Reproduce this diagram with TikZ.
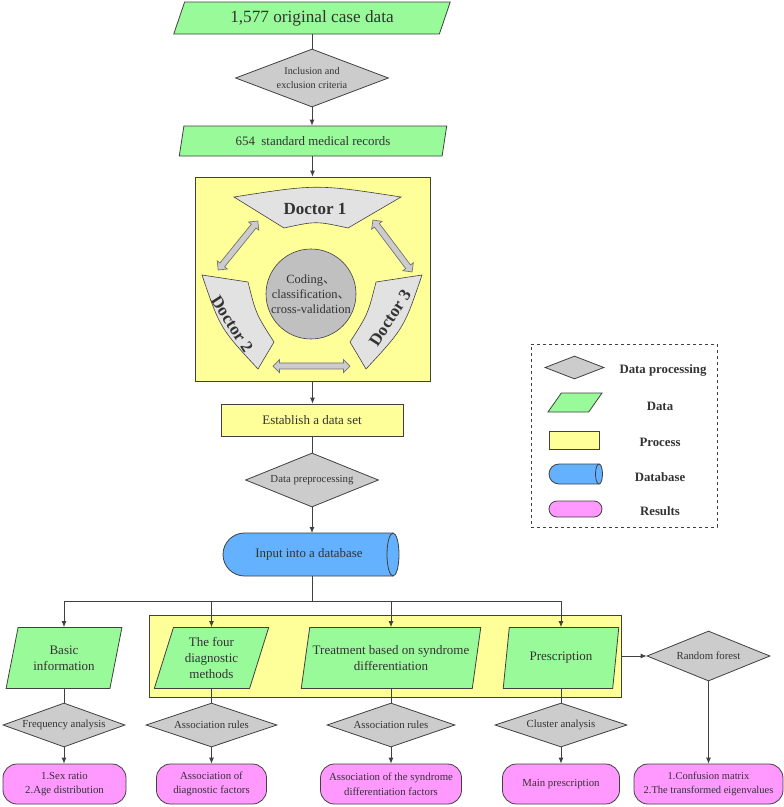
\documentclass[tikz,border=0pt]{standalone}
\usepackage{fontspec}
\setmainfont{Liberation Serif}
\newfontfamily\cjk{Noto Sans CJK SC}
\usepackage{tikz}
\usetikzlibrary{shapes.geometric, shapes.arrows, positioning, arrows.meta}

\definecolor{datagreen}{RGB}{153,250,153}
\definecolor{procyellow}{RGB}{255,255,153}
\definecolor{procgray}{RGB}{204,204,204}
\definecolor{dbblue}{RGB}{99,177,255}
\definecolor{respink}{RGB}{255,153,255}
\definecolor{docgray}{RGB}{226,226,226}
\definecolor{circgray}{RGB}{192,192,192}
\definecolor{linegray}{RGB}{64,64,64}
\definecolor{textgray}{RGB}{51,51,51}

\tikzset{
  line/.style={draw=linegray, line width=0.8pt},
  arr/.style={line, -{Latex[length=6pt,width=5pt]}},
  datanode/.style={trapezium, trapezium stretches=true, trapezium left angle=#1,
    trapezium right angle={180-#1}, draw=linegray, fill=datagreen, line width=0.8pt,
    inner sep=0pt, align=center, text=textgray},
  datanode/.default=72,
  procnode/.style={diamond, shape aspect=2.6, draw=linegray, fill=procgray,
    line width=0.8pt, inner sep=0pt, align=center, text=textgray},
  boxnode/.style={rectangle, draw=linegray, fill=procyellow, line width=0.8pt,
    inner sep=0pt, align=center, text=textgray},
  resnode/.style={rectangle, rounded corners=14pt, draw=linegray, fill=respink,
    line width=0.8pt, inner sep=0pt, align=center, text=textgray},
  docshape/.style={draw=linegray, fill=docgray, line width=0.6pt},
  docarrow/.style={double arrow, draw=gray!90!black, fill=procgray, line width=0.7pt,
    inner sep=2.7pt, double arrow head extend=3.5pt},
  legtxt/.style={text=textgray, font=\fontsize{12.8}{15}\selectfont\bfseries}
}

\begin{document}
\begin{tikzpicture}[x=1pt, y=-1pt]
\useasboundingbox (0,0) rectangle (784,807);

% Top column
\node[datanode=66, minimum width=277, minimum height=32, font=\fontsize{17.2}{20}\selectfont]
  (raw) at (312,18) {1,577 original case data};
\node[procnode, minimum width=153, minimum height=58, font=\fontsize{10.2}{14.5}\selectfont]
  (incl) at (312,78) {Inclusion and\\exclusion criteria};
\node[datanode=73, minimum width=268, minimum height=30, font=\fontsize{12.9}{15}\selectfont]
  (std) at (313,141) {654\ \ standard medical records};

% Doctors box
\node[boxnode, minimum width=235, minimum height=204] (docbox) at (312.5,279) {};
\draw[docshape] (234,197) .. controls (317,184) .. (401,197) -- (348,228)
  .. controls (316,221) .. (284,228) -- cycle;
\draw[docshape] (202,275) .. controls (220,328) .. (258,369) -- (274,342)
  .. controls (256,314) .. (248,282) -- cycle;
\draw[docshape] (422,275) .. controls (404,328) .. (366,369) -- (350,342)
  .. controls (368,314) .. (376,282) -- cycle;
\node[text=textgray, font=\fontsize{17}{19}\selectfont\bfseries] (doc1) at (315,209) {Doctor 1};
\node[text=textgray, font=\fontsize{17}{19}\selectfont\bfseries, rotate=-57] (doc2) at (232,324) {Doctor 2};
\node[text=textgray, font=\fontsize{17}{19}\selectfont\bfseries, rotate=57] (doc3) at (390,318) {Doctor 3};
\node[circle, draw=linegray, fill=circgray, line width=0.6pt, minimum size=90, inner sep=0pt,
  align=center, text=textgray, font=\fontsize{12.5}{15}\selectfont]
  (coding) at (311,294) {Coding{\cjk 、}\\classification{\cjk 、}\\cross-validation};
\node[docarrow, minimum height=63, rotate=51] (swap12) at (238,245.5) {};
\node[docarrow, minimum height=65, rotate=-53] (swap13) at (392.5,246) {};
\node[docarrow, minimum height=77] (swap23) at (311.5,366) {};

\node[boxnode, minimum width=182, minimum height=32, font=\fontsize{13}{15}\selectfont]
  (estab) at (312,420) {Establish a data set};
\node[procnode, minimum width=133, minimum height=54, font=\fontsize{10.8}{13}\selectfont]
  (prep) at (312,480) {Data preprocessing};

% Database
\draw[line, fill=dbblue] (393,533) [rounded corners=21.5pt] -- (223,533) -- (223,576)
  [sharp corners] -- (393,576) -- cycle;
\draw[line, fill=dbblue] (393,554.5) ellipse [x radius=6, y radius=21.5];
\node[text=textgray, minimum width=170, minimum height=43, inner sep=0pt,
  font=\fontsize{12.9}{15}\selectfont] (db) at (309,554.5) {Input into a database};

% Lower row
\node[boxnode, minimum width=472, minimum height=82] (lowbox) at (385,656) {};
\node[datanode, minimum width=116, minimum height=61, font=\fontsize{13}{16}\selectfont]
  (basic) at (64,658) {Basic\\information};
\node[datanode, minimum width=115, minimum height=61, font=\fontsize{13}{16}\selectfont]
  (four) at (211.5,658) {The four\\diagnostic\\methods};
\node[datanode, minimum width=180, minimum height=61, font=\fontsize{13}{16}\selectfont]
  (treat) at (391,658) {Treatment based on syndrome\\differentiation};
\node[datanode, minimum width=116, minimum height=61, font=\fontsize{13}{16}\selectfont]
  (presc) at (561,658) {Prescription};

\node[procnode, minimum width=122, minimum height=44, font=\fontsize{10.8}{13}\selectfont]
  (freq) at (64,725) {Frequency analysis};
\node[procnode, minimum width=131, minimum height=44, font=\fontsize{10.8}{13}\selectfont]
  (assoc1) at (211.5,725) {Association rules};
\node[procnode, minimum width=128, minimum height=44, font=\fontsize{10.8}{13}\selectfont]
  (assoc2) at (391,725) {Association rules};
\node[procnode, minimum width=132, minimum height=44, font=\fontsize{10.8}{13}\selectfont]
  (clus) at (561,725) {Cluster analysis};
\node[procnode, minimum width=123, minimum height=50, font=\fontsize{10.8}{13}\selectfont]
  (rf) at (708.5,656) {Random forest};

\node[resnode, minimum width=123, minimum height=40, font=\fontsize{10.8}{14.5}\selectfont]
  (res1) at (64.5,784) {1.Sex ratio\\2.Age distribution};
\node[resnode, minimum width=110, minimum height=40, font=\fontsize{10.8}{14.5}\selectfont]
  (res2) at (211.5,784) {Association of\\diagnostic factors};
\node[resnode, minimum width=141, minimum height=40, font=\fontsize{10.8}{14.5}\selectfont]
  (res3) at (391,784) {Association of the syndrome\\differentiation factors};
\node[resnode, minimum width=117, minimum height=40, font=\fontsize{10.8}{14.5}\selectfont]
  (res4) at (561,784) {Main prescription};
\node[resnode, minimum width=149, minimum height=40, font=\fontsize{10.5}{14}\selectfont]
  (res5) at (708.5,784) {1.Confusion matrix\\2.The transformed eigenvalues};

% Legend
\node[draw=linegray, dashed, line width=0.8pt, minimum width=186, minimum height=183] (legend) at (624,435.5) {};
\node[procnode, inner sep=1pt, minimum width=59, minimum height=23] (legproc) at (574.5,367.5) {};
\node[datanode=64, inner sep=1pt, minimum width=54, minimum height=19] (legdata) at (575,402.5) {};
\node[boxnode, minimum width=50, minimum height=18] (legbox) at (574,440) {};
\draw[line, fill=dbblue] (599,464) [rounded corners=10pt] -- (549,464) -- (549,484)
  [sharp corners] -- (599,484) -- cycle;
\draw[line, fill=dbblue] (599,474) ellipse [x radius=3.5, y radius=10];
\node[resnode, rounded corners=8pt, minimum width=53, minimum height=16] (legres) at (575.5,509) {};
\node[legtxt] (legprocl) at (663,370) {Data processing};
\node[legtxt] (legdatal) at (660,406) {Data};
\node[legtxt] (legboxl) at (660,442) {Process};
\node[legtxt] (legdbl) at (660,477) {Database};
\node[legtxt] (legresl) at (660,511) {Results};

% Connectors
\draw[line] (raw.south) -- (raw.south |- incl.north);
\draw[arr] (incl.south) -- (incl.south |- std.north);
\draw[arr] (std.south -| docbox.north) -- (docbox.north);
\draw[arr] (docbox.south) -- (docbox.south |- estab.north);
\draw[line] (estab.south) -- (estab.south |- prep.north);
\draw[arr] (prep.south) -- (312,533);
\draw[line] (312,576) -- (312,601) coordinate (fork);
\draw[arr] (fork) -| (basic.north -| basic.center);
\draw[arr] (fork) -| (four.north -| four.center);
\draw[arr] (fork) -| (treat.north -| treat.center);
\draw[arr] (fork) -| (presc.north -| presc.center);
\foreach \src/\mid/\dst in {basic/freq/res1, four/assoc1/res2, treat/assoc2/res3, presc/clus/res4} {
  \draw[line] (\src.south -| \mid.north) -- (\mid.north);
  \draw[arr] (\mid.south) -- (\mid.south |- \dst.north);
}
\draw[arr] (lowbox.east) -- (rf.west);
\draw[arr] (rf.south) -- (rf.south |- res5.north);
\end{tikzpicture}
\end{document}
